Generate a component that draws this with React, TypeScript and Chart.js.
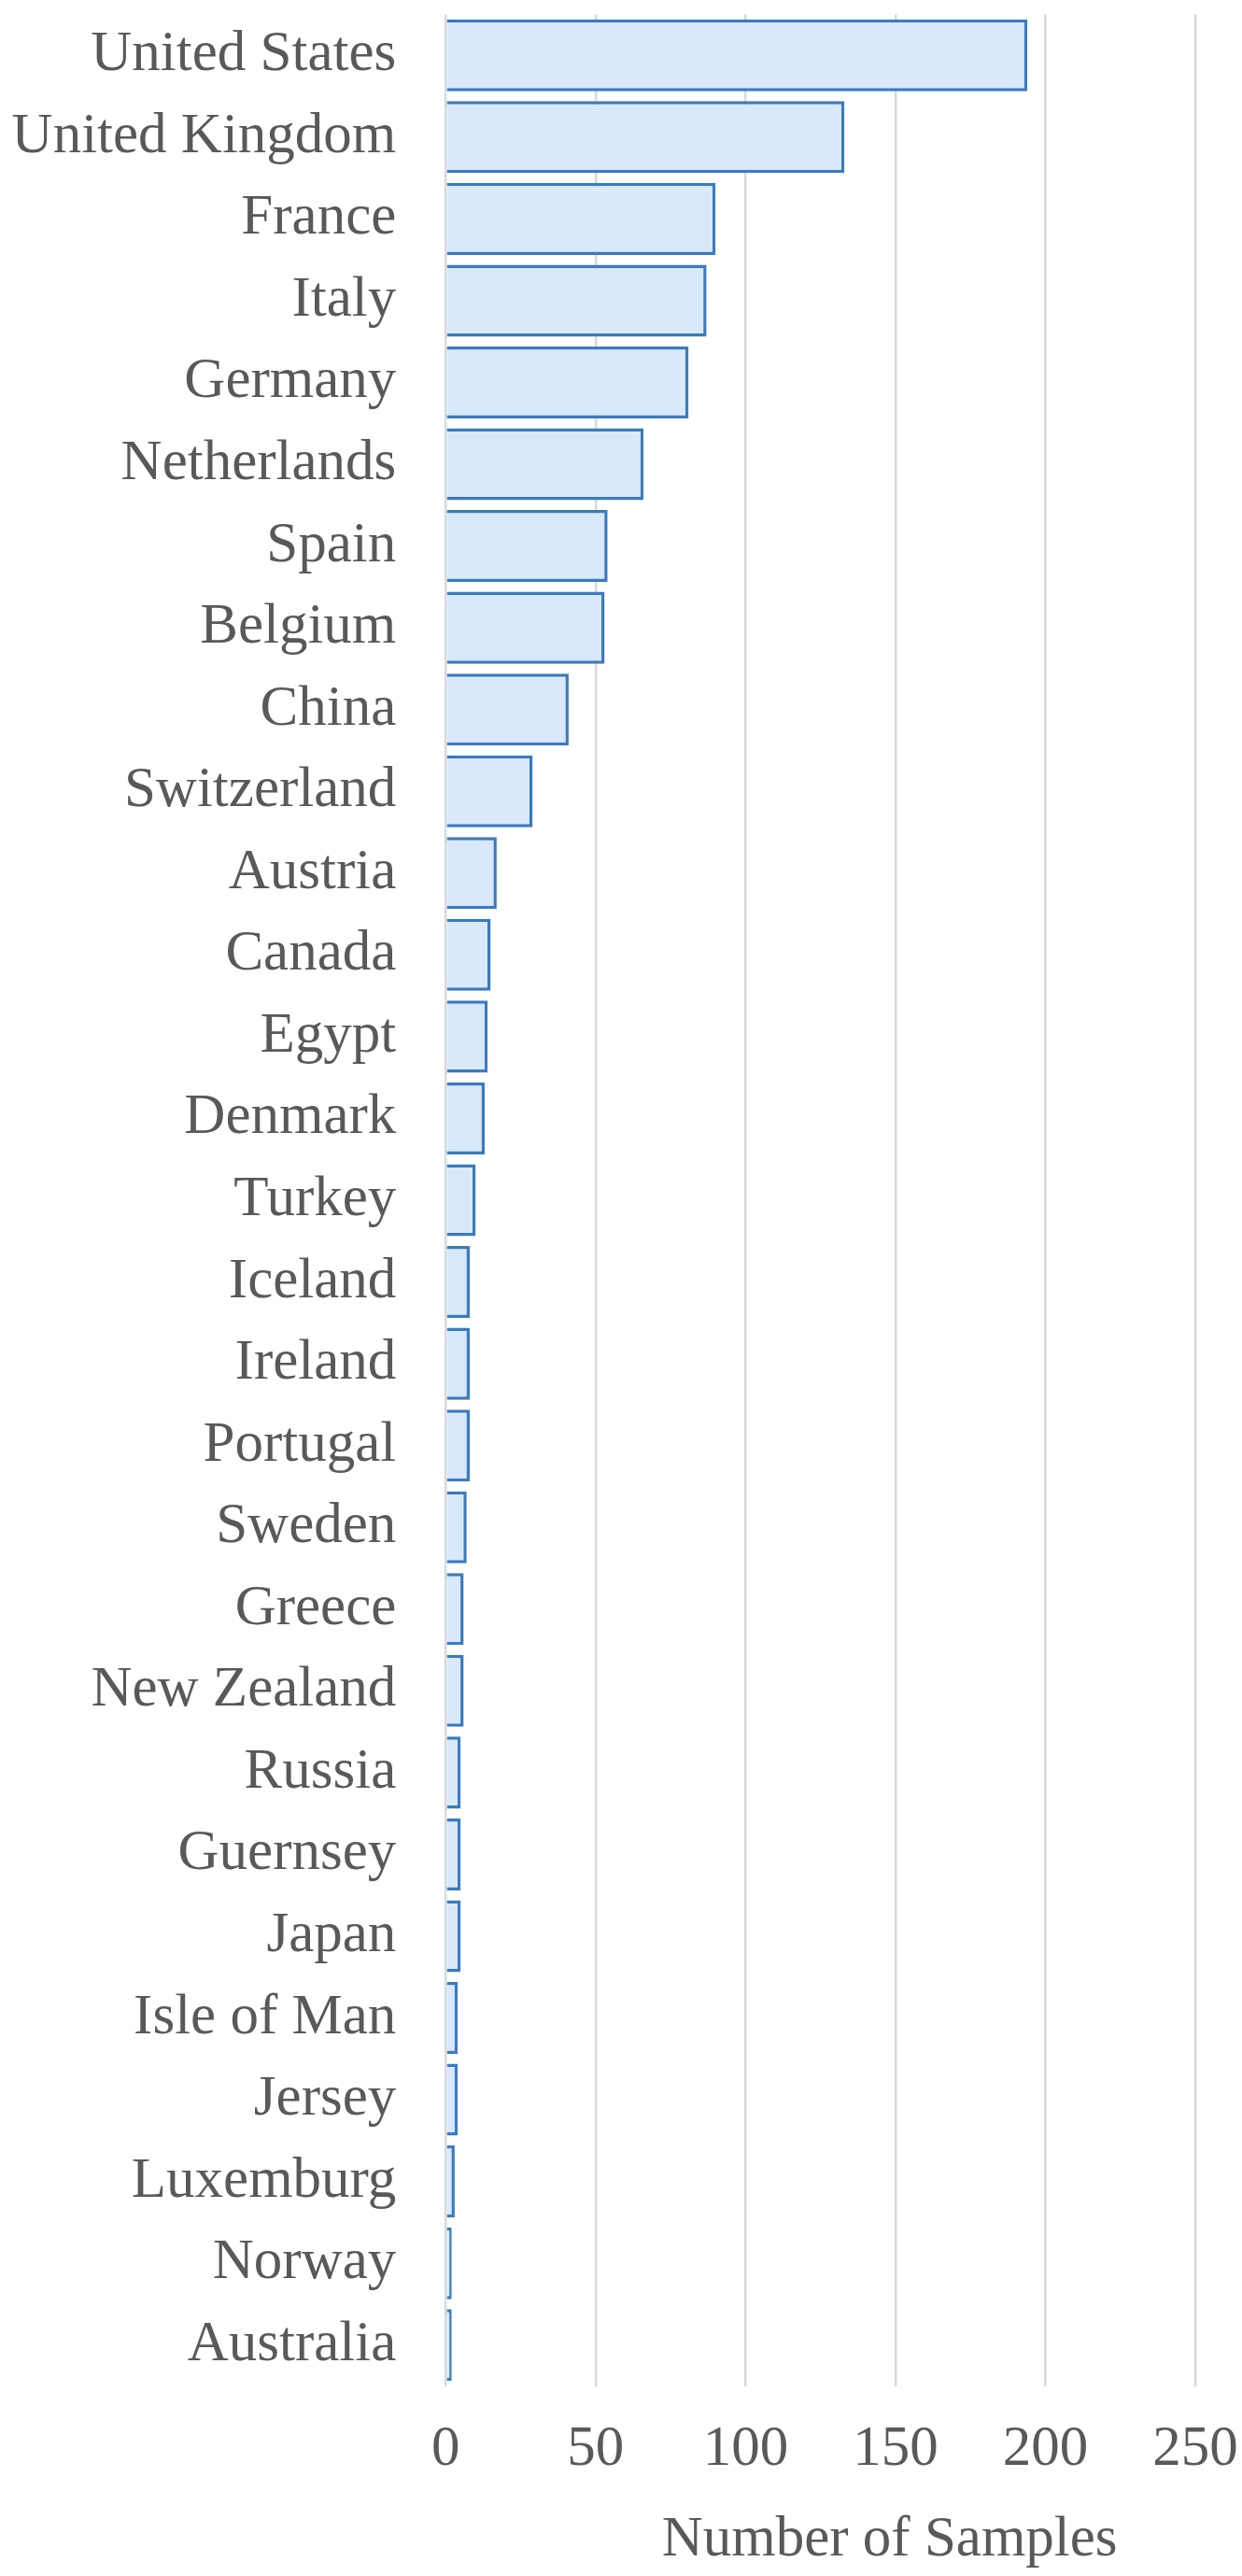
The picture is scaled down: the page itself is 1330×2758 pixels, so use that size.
import { useEffect, useRef } from 'react';
import { Chart, registerables } from 'chart.js';

Chart.register(...registerables);

const countries = [
  'United States', 'United Kingdom', 'France', 'Italy', 'Germany', 'Netherlands',
  'Spain', 'Belgium', 'China', 'Switzerland', 'Austria', 'Canada', 'Egypt',
  'Denmark', 'Turkey', 'Iceland', 'Ireland', 'Portugal', 'Sweden', 'Greece',
  'New Zealand', 'Russia', 'Guernsey', 'Japan', 'Isle of Man', 'Jersey',
  'Luxemburg', 'Norway', 'Australia',
];
const samples = [
  194, 133, 90, 87, 81, 66,
  54, 53, 41, 29, 17, 15, 14,
  13, 10, 8, 8, 8, 7, 6,
  6, 5, 5, 5, 4, 4,
  3, 2, 2,
];
const xMin = 0;
const xMax = 250;
const xStep = 50;
const axisTitle = 'Number of Samples';

const FONT_FAMILY = '"Liberation Serif", "Times New Roman", serif';
const TEXT_COLOR = '#595959';

export default function App() {
  const ref = useRef<HTMLCanvasElement>(null);

  useEffect(() => {
    document.body.style.margin = '0';
    const font = { family: FONT_FAMILY, size: 61 };

    const titlePlugin = {
      id: 'xAxisTitle',
      afterDraw(chart: any) {
        const { ctx, chartArea } = chart;
        ctx.save();
        ctx.font = `61px ${FONT_FAMILY}`;
        ctx.fillStyle = TEXT_COLOR;
        ctx.textAlign = 'center';
        ctx.textBaseline = 'alphabetic';
        ctx.fillText(axisTitle, (chartArea.left + chartArea.right) / 2 + 74, chartArea.bottom + 181);
        ctx.restore();
      },
    };

    const chart = new Chart(ref.current as HTMLCanvasElement, {
      type: 'bar',
      data: {
        labels: countries,
        datasets: [
          {
            data: samples,
            backgroundColor: '#dae8fc',
            borderColor: '#3a7bbf',
            borderWidth: 3.5,
            barPercentage: 0.88,
            categoryPercentage: 1,
          },
        ],
      },
      options: {
        indexAxis: 'y',
        responsive: false,
        animation: false,
        layout: { padding: { top: 15.5, right: 50, left: 0, bottom: 0 } },
        plugins: { legend: { display: false }, tooltip: { enabled: false } },
        scales: {
          x: {
            min: xMin,
            max: xMax,
            ticks: { stepSize: xStep, padding: 32, color: TEXT_COLOR, font, maxRotation: 0 },
            grid: { color: '#d9d9d9', lineWidth: 2.5, drawTicks: false },
            border: { display: false },
            afterFit: (s: any) => {
              s.height = 203.5;
              s.paddingLeft = 0;
              s.paddingRight = 0;
            },
          },
          y: {
            ticks: { padding: 53, color: TEXT_COLOR, font, autoSkip: false },
            grid: { display: false, drawTicks: false },
            border: { display: false },
            afterFit: (s: any) => {
              s.width = 477.3;
              s.paddingTop = 0;
              s.paddingBottom = 0;
            },
          },
        },
      },
      plugins: [titlePlugin],
    } as any);

    return () => chart.destroy();
  }, []);

  return (
    <div style={{ position: 'absolute', left: 0, top: 0 }}>
      <canvas ref={ref} width={1330} height={2758} style={{ display: 'block' }} />
    </div>
  );
}
